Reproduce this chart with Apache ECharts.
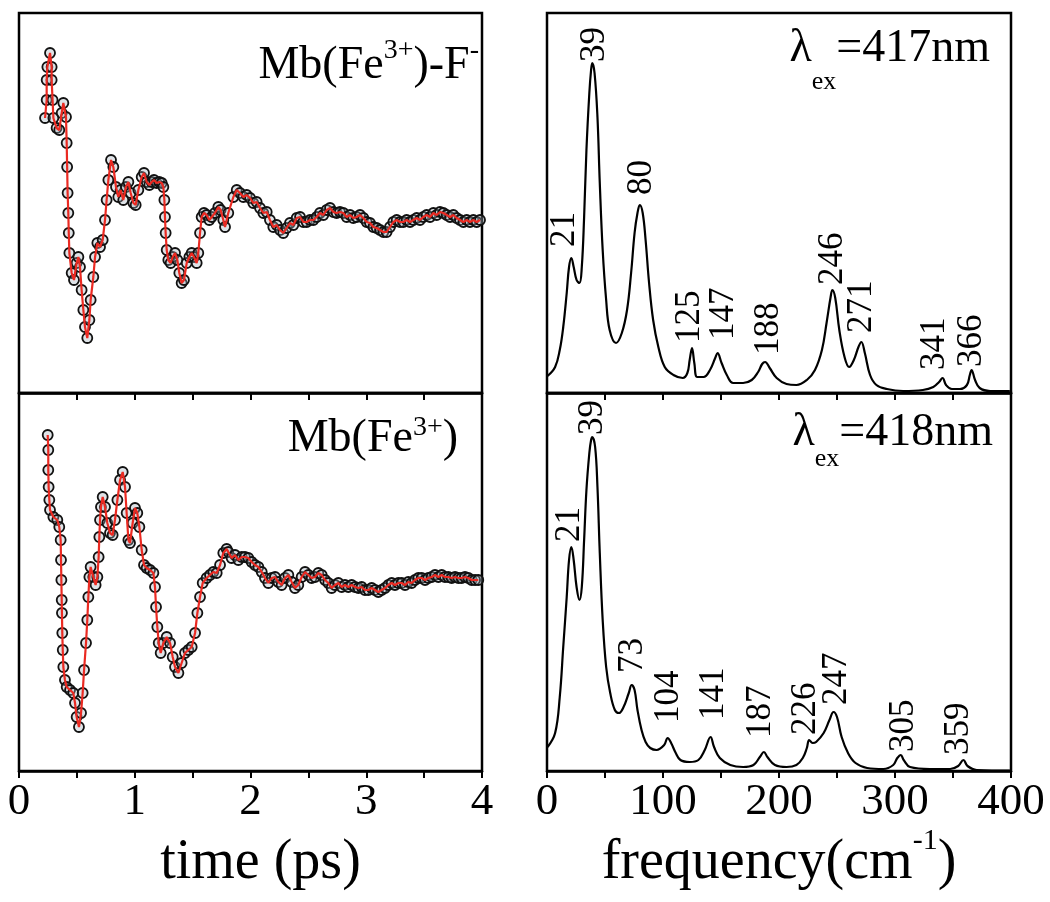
<!DOCTYPE html>
<html><head><meta charset="utf-8">
<script src="https://cdn.jsdelivr.net/npm/echarts/dist/echarts.min.js"></script>
<style>html,body{margin:0;padding:0;background:#fff}#c{width:1050px;height:902px}</style>
</head><body><div id="c"></div>
<script>
// ---- data ----
// time traces: [time (ps), signal (arb. units)]
const timeTopData = [[0.225,102],[0.239,120],[0.239,140],[0.245,153],[0.268,167],[0.282,153],[0.282,140],[0.290,120],[0.297,102],[0.325,92],[0.348,90],[0.369,107],[0.383,117],[0.406,103],[0.412,77],[0.416,53],[0.420,27],[0.426,7],[0.430,-13],[0.435,-33],[0.455,-53],[0.475,-60],[0.498,-43],[0.513,-37],[0.527,-47],[0.541,-70],[0.556,-90],[0.570,-107],[0.590,-118],[0.608,-100],[0.619,-80],[0.642,-57],[0.657,-37],[0.677,-23],[0.700,-27],[0.723,-20],[0.743,0],[0.757,20],[0.772,40],[0.795,60],[0.815,53],[0.838,33],[0.858,23],[0.878,30],[0.901,20],[0.924,33],[0.945,38],[0.965,27],[0.988,17],[1.008,15],[1.031,30],[1.060,43],[1.080,47],[1.103,38],[1.126,35],[1.146,38],[1.166,40],[1.189,37],[1.212,38],[1.233,37],[1.247,33],[1.256,20],[1.261,3],[1.267,-13],[1.276,-30],[1.290,-40],[1.310,-43],[1.328,-37],[1.348,-33],[1.368,-40],[1.385,-53],[1.405,-63],[1.425,-60],[1.449,-43],[1.472,-37],[1.492,-33],[1.512,-37],[1.535,-43],[1.549,-33],[1.564,-13],[1.578,3],[1.598,7],[1.621,5],[1.644,0],[1.665,3],[1.693,7],[1.722,13],[1.742,10],[1.765,0],[1.780,-7],[1.808,7],[1.852,23],[1.881,30],[1.909,27],[1.938,23],[1.967,25],[1.996,22],[2.024,17],[2.053,18],[2.082,12],[2.111,7],[2.140,8],[2.168,0],[2.197,-7],[2.226,-5],[2.255,-10],[2.283,-13],[2.312,-8],[2.341,-3],[2.370,-5],[2.399,2],[2.428,3],[2.456,-2],[2.485,-2],[2.514,0],[2.543,0],[2.572,3],[2.600,7],[2.629,5],[2.658,10],[2.687,12],[2.716,8],[2.744,7],[2.773,8],[2.802,7],[2.831,3],[2.860,5],[2.888,2],[2.917,3],[2.946,5],[2.975,2],[3.004,-2],[3.032,-3],[3.061,-7],[3.090,-8],[3.119,-10],[3.148,-12],[3.176,-12],[3.205,-7],[3.234,-2],[3.263,0],[3.292,-2],[3.320,-2],[3.349,0],[3.378,-2],[3.407,0],[3.436,2],[3.464,0],[3.493,3],[3.522,5],[3.551,3],[3.580,7],[3.608,5],[3.637,8],[3.666,7],[3.695,5],[3.724,3],[3.752,5],[3.781,2],[3.810,0],[3.839,-2],[3.868,0],[3.896,-2],[3.925,0],[3.954,-2],[3.983,0]];
const timeBottomData = [[0.248,145],[0.253,130],[0.253,110],[0.256,93],[0.262,80],[0.268,70],[0.297,63],[0.331,60],[0.348,53],[0.360,40],[0.363,20],[0.366,0],[0.369,-20],[0.371,-33],[0.374,-53],[0.378,-70],[0.383,-87],[0.397,-100],[0.412,-107],[0.441,-110],[0.469,-113],[0.484,-123],[0.498,-137],[0.518,-147],[0.536,-133],[0.550,-113],[0.562,-90],[0.579,-63],[0.590,-40],[0.599,-17],[0.608,3],[0.619,13],[0.642,3],[0.662,-5],[0.677,3],[0.688,23],[0.694,43],[0.700,60],[0.708,73],[0.723,83],[0.743,73],[0.763,57],[0.786,47],[0.809,45],[0.829,60],[0.850,80],[0.873,100],[0.896,108],[0.916,93],[0.930,67],[0.945,40],[0.959,37],[0.982,57],[1.002,72],[1.022,67],[1.040,53],[1.060,30],[1.080,15],[1.103,12],[1.132,10],[1.161,7],[1.175,-7],[1.184,-27],[1.195,-47],[1.207,-63],[1.224,-73],[1.247,-63],[1.276,-57],[1.305,-63],[1.328,-77],[1.348,-87],[1.377,-93],[1.405,-83],[1.434,-73],[1.463,-70],[1.492,-67],[1.521,-53],[1.541,-33],[1.564,-17],[1.587,-3],[1.621,2],[1.650,5],[1.679,8],[1.708,7],[1.737,15],[1.765,27],[1.794,31],[1.808,28],[1.837,22],[1.866,25],[1.895,20],[1.924,23],[1.952,23],[1.981,22],[2.010,18],[2.039,15],[2.068,13],[2.097,8],[2.125,2],[2.154,-3],[2.183,2],[2.212,3],[2.240,-2],[2.269,-5],[2.298,2],[2.327,5],[2.356,-2],[2.384,-8],[2.413,-5],[2.442,3],[2.471,8],[2.500,5],[2.528,2],[2.557,3],[2.586,7],[2.615,5],[2.644,0],[2.672,-3],[2.701,-8],[2.730,-5],[2.759,-3],[2.788,-7],[2.816,-5],[2.845,-7],[2.874,-5],[2.903,-7],[2.932,-8],[2.960,-7],[2.989,-10],[3.018,-10],[3.047,-8],[3.076,-10],[3.104,-12],[3.133,-10],[3.162,-8],[3.191,-5],[3.220,-3],[3.248,-5],[3.277,-3],[3.306,-3],[3.335,-5],[3.363,-2],[3.392,-3],[3.421,0],[3.450,2],[3.479,2],[3.508,0],[3.536,2],[3.565,3],[3.594,5],[3.623,3],[3.652,5],[3.680,3],[3.709,3],[3.738,2],[3.767,3],[3.796,2],[3.824,2],[3.853,3],[3.882,2],[3.911,0],[3.940,0],[3.968,0]];
// spectra: [frequency (cm-1), amplitude (arb. units)]
const specTopData = [[0.5,17],[7,26],[11,43],[14,66],[17,100],[19,126],[21,135],[23,126],[25.5,113],[28,110],[30,126],[32,176],[34,243],[36.5,300],[38,323],[39,330],[41,320],[43.5,276],[45.5,210],[48,143],[51,93],[54,63],[59.5,50],[64.5,60],[69,83],[72.5,120],[75.5,160],[78,180],[80,188],[82.5,180],[85,153],[88,110],[91.5,73],[96,46],[101.5,26],[109,18],[117,15],[121,20],[123,33],[125,45],[127,30],[129.5,16],[135,16],[140.5,23],[145,35],[147,40],[150.5,30],[155,18],[160.5,10],[169,10],[176.5,13],[182,21],[185.5,29],[188,31],[192,25],[198,15],[206.5,9],[215,8],[224,13],[231,23],[237,43],[241,70],[244.5,96],[246,103],[248.5,95],[252,63],[256.5,36],[260.5,26],[264.5,33],[268.5,46],[271,51],[274,40],[278.5,18],[284,8],[293,4],[307,2],[324,3],[333,6],[338,11],[341,15],[344,8],[349,4],[356,4],[362,8],[364.5,18],[366,23],[369,13],[373,5],[382,2],[399,2]];
const specBottomData = [[0.5,24],[7,38],[11,74],[14,124],[17,174],[19,211],[21,224],[23,211],[25.5,184],[28,171],[30,184],[32,231],[34,281],[36.5,318],[38,331],[39,334],[41.5,324],[43.5,284],[45.5,218],[48,151],[51,104],[54.5,78],[58.5,61],[62,58],[66,64],[70.5,78],[73,86],[75.5,81],[78,61],[81.5,41],[85,29],[89,23],[94.5,21],[101,26],[104,33],[107,28],[111,18],[115,11],[123,9],[130.5,11],[136,21],[141,34],[144,24],[149,13],[158,6],[169,4],[178,6],[183.5,14],[187,19],[190,14],[196.5,6],[206.5,4],[215,6],[220.5,13],[224,23],[226,31],[229,28],[232,29],[238.5,38],[243.5,51],[247,59],[250,54],[254,34],[259.5,18],[266,8],[276,3],[290,2],[298.5,6],[302,13],[305,16],[307.5,11],[313,4],[330,2],[347.5,2],[354.5,5],[359,11],[362.5,5],[370.5,1],[399,0.3]];
// peak annotations: text and anchor (frequency, amplitude) where the upright text starts
const specTopLabels = ['21','39','80','125','147','188','246','271','341','366'];
const specTopLabelAt = [[15.5,146],[40.8,331],[81.6,198],[123.3,50],[152,53],[190.8,38],[246.8,108],[271.3,60],[334.5,23],[366,26]];
const specBottomLabels = ['21','39','73','104','141','187','226','247','305','359'];
const specBottomLabelAt = [[19.8,229],[39.4,336],[73.9,98],[105,48],[144,51],[184,33],[223,36],[250,66],[307.8,19],[355,16]];
const timeTicks = [0, 4, 1];      // min, max, step
const freqTicks = [0, 400, 100];  // min, max, step

const FONT = 'Liberation Serif';
const chart = echarts.init(document.getElementById('c'), null, {renderer: 'canvas'});

const grids = [
  {left: 19, top: 13, width: 463, height: 380},
  {left: 19, top: 393, width: 463, height: 378},
  {left: 547, top: 13, width: 464, height: 380},
  {left: 547, top: 393, width: 464, height: 378}
].map(g => Object.assign(g, {show: true, borderColor: '#000', borderWidth: 2.5, backgroundColor: 'transparent', containLabel: false, outerBoundsMode: 'none'}));

function xAx(gi, ticks, labels, extra) {
  return Object.assign({
    gridIndex: gi, type: 'value', min: ticks[0], max: ticks[1], interval: ticks[2],
    axisLine: {show: true, onZero: false, lineStyle: {color: '#000', width: 2.5}},
    axisTick: {show: true, inside: false, length: 7, lineStyle: {color: '#000', width: 2}},
    minorTick: {show: true, splitNumber: 2, length: 7, lineStyle: {color: '#000', width: 2}},
    splitLine: {show: false}, minorSplitLine: {show: false},
    axisLabel: {show: labels, color: '#000', fontFamily: FONT, fontSize: 45, margin: 9, showMinLabel: true, showMaxLabel: true, hideOverlap: false}
  }, extra || {});
}
function yAx(gi, min, max) {
  return {gridIndex: gi, type: 'value', min: min, max: max, show: false, splitLine: {show: false}};
}

const circleStyle = {color: 'rgba(160,175,185,0.35)', borderColor: '#111', borderWidth: 1.8, opacity: 1};
const fitStyle = {color: '#ea2a22', width: 2.2};
const labelSeries = (ai, texts, at) => ({
  type: 'scatter', xAxisIndex: ai, yAxisIndex: ai, symbolSize: 0, silent: true, z: 5,
  itemStyle: {opacity: 1},
  data: texts.map((t, i) => ({value: at[i], name: t})),
  label: {show: true, formatter: '{b}', position: 'inside', rotate: 90, align: 'left', verticalAlign: 'middle',
          color: '#000', opacity: 1, textBorderWidth: 0, fontFamily: FONT, fontSize: 35}
});

const base = {fontFamily: FONT, fontWeight: 'normal', color: '#000'};
const mk = (o) => Object.assign({}, base, o);
const richTitle = {
  a: mk({fontSize: 46, lineHeight: 46}),
  sup1: mk({fontSize: 28, lineHeight: 28, padding: [0, 0, 31, 0]}),
  sup2: mk({fontSize: 28, lineHeight: 28, padding: [0, 0, 22, 0]}),
  sub1: mk({fontSize: 26, lineHeight: 26, padding: [66, 0, 0, 0]}),
  sub2: mk({fontSize: 26, lineHeight: 26, padding: [53, 0, 0, 0]})
};
const tStyle = {fontWeight: 'normal', rich: richTitle};

chart.setOption({
  animation: false,
  backgroundColor: '#fff',
  title: [
    {text: '{a|Mb(Fe}{sup1|3+}{a|)-F}{sup1|-}', right: 571, top: 43, padding: 0, textStyle: tStyle},
    {text: '{a|Mb(Fe}{sup2|3+}{a|)}', right: 592, top: 416, padding: 0, textStyle: tStyle},
    {text: '{a|λ}{sub1|ex}{a|=417nm}', right: 60, top: 26, padding: 0, textStyle: tStyle},
    {text: '{a|λ}{sub2|ex}{a|=418nm}', right: 57, top: 410, padding: 0, textStyle: tStyle}
  ],
  grid: grids,
  xAxis: [
    xAx(0, timeTicks, false),
    xAx(1, timeTicks, true, {name: 'time (ps)', nameLocation: 'middle', nameGap: 64,
      nameTextStyle: {fontFamily: FONT, fontSize: 56, lineHeight: 56, color: '#000', padding: [0, 0, 0, 20]}}),
    xAx(2, freqTicks, false),
    xAx(3, freqTicks, true, {name: '{a|frequency(cm}{s|-1}{a|)}', nameLocation: 'middle', nameGap: 55,
      nameTextStyle: {color: '#000', rich: {
        a: mk({fontSize: 56, lineHeight: 56}),
        s: mk({fontSize: 30, lineHeight: 30, padding: [0, 0, 44, 0]})}}})
  ],
  yAxis: [yAx(0, -173, 207), yAx(1, -191, 187), yAx(2, 0, 380), yAx(3, 0, 378)],
  series: [
    {type: 'scatter', xAxisIndex: 0, yAxisIndex: 0, data: timeTopData, symbol: 'circle', symbolSize: 10, itemStyle: circleStyle, z: 2, silent: true},
    {type: 'line', xAxisIndex: 0, yAxisIndex: 0, data: timeTopData, showSymbol: false, lineStyle: fitStyle, z: 3, silent: true},
    {type: 'scatter', xAxisIndex: 1, yAxisIndex: 1, data: timeBottomData, symbol: 'circle', symbolSize: 10, itemStyle: circleStyle, z: 2, silent: true},
    {type: 'line', xAxisIndex: 1, yAxisIndex: 1, data: timeBottomData, showSymbol: false, lineStyle: fitStyle, z: 3, silent: true},
    {type: 'line', xAxisIndex: 2, yAxisIndex: 2, data: specTopData, showSymbol: false, smooth: 0.4, lineStyle: {color: '#000', width: 2.2}, silent: true},
    {type: 'line', xAxisIndex: 3, yAxisIndex: 3, data: specBottomData, showSymbol: false, smooth: 0.4, lineStyle: {color: '#000', width: 2.2}, silent: true},
    labelSeries(2, specTopLabels, specTopLabelAt),
    labelSeries(3, specBottomLabels, specBottomLabelAt)
  ]
});
</script></body></html>
